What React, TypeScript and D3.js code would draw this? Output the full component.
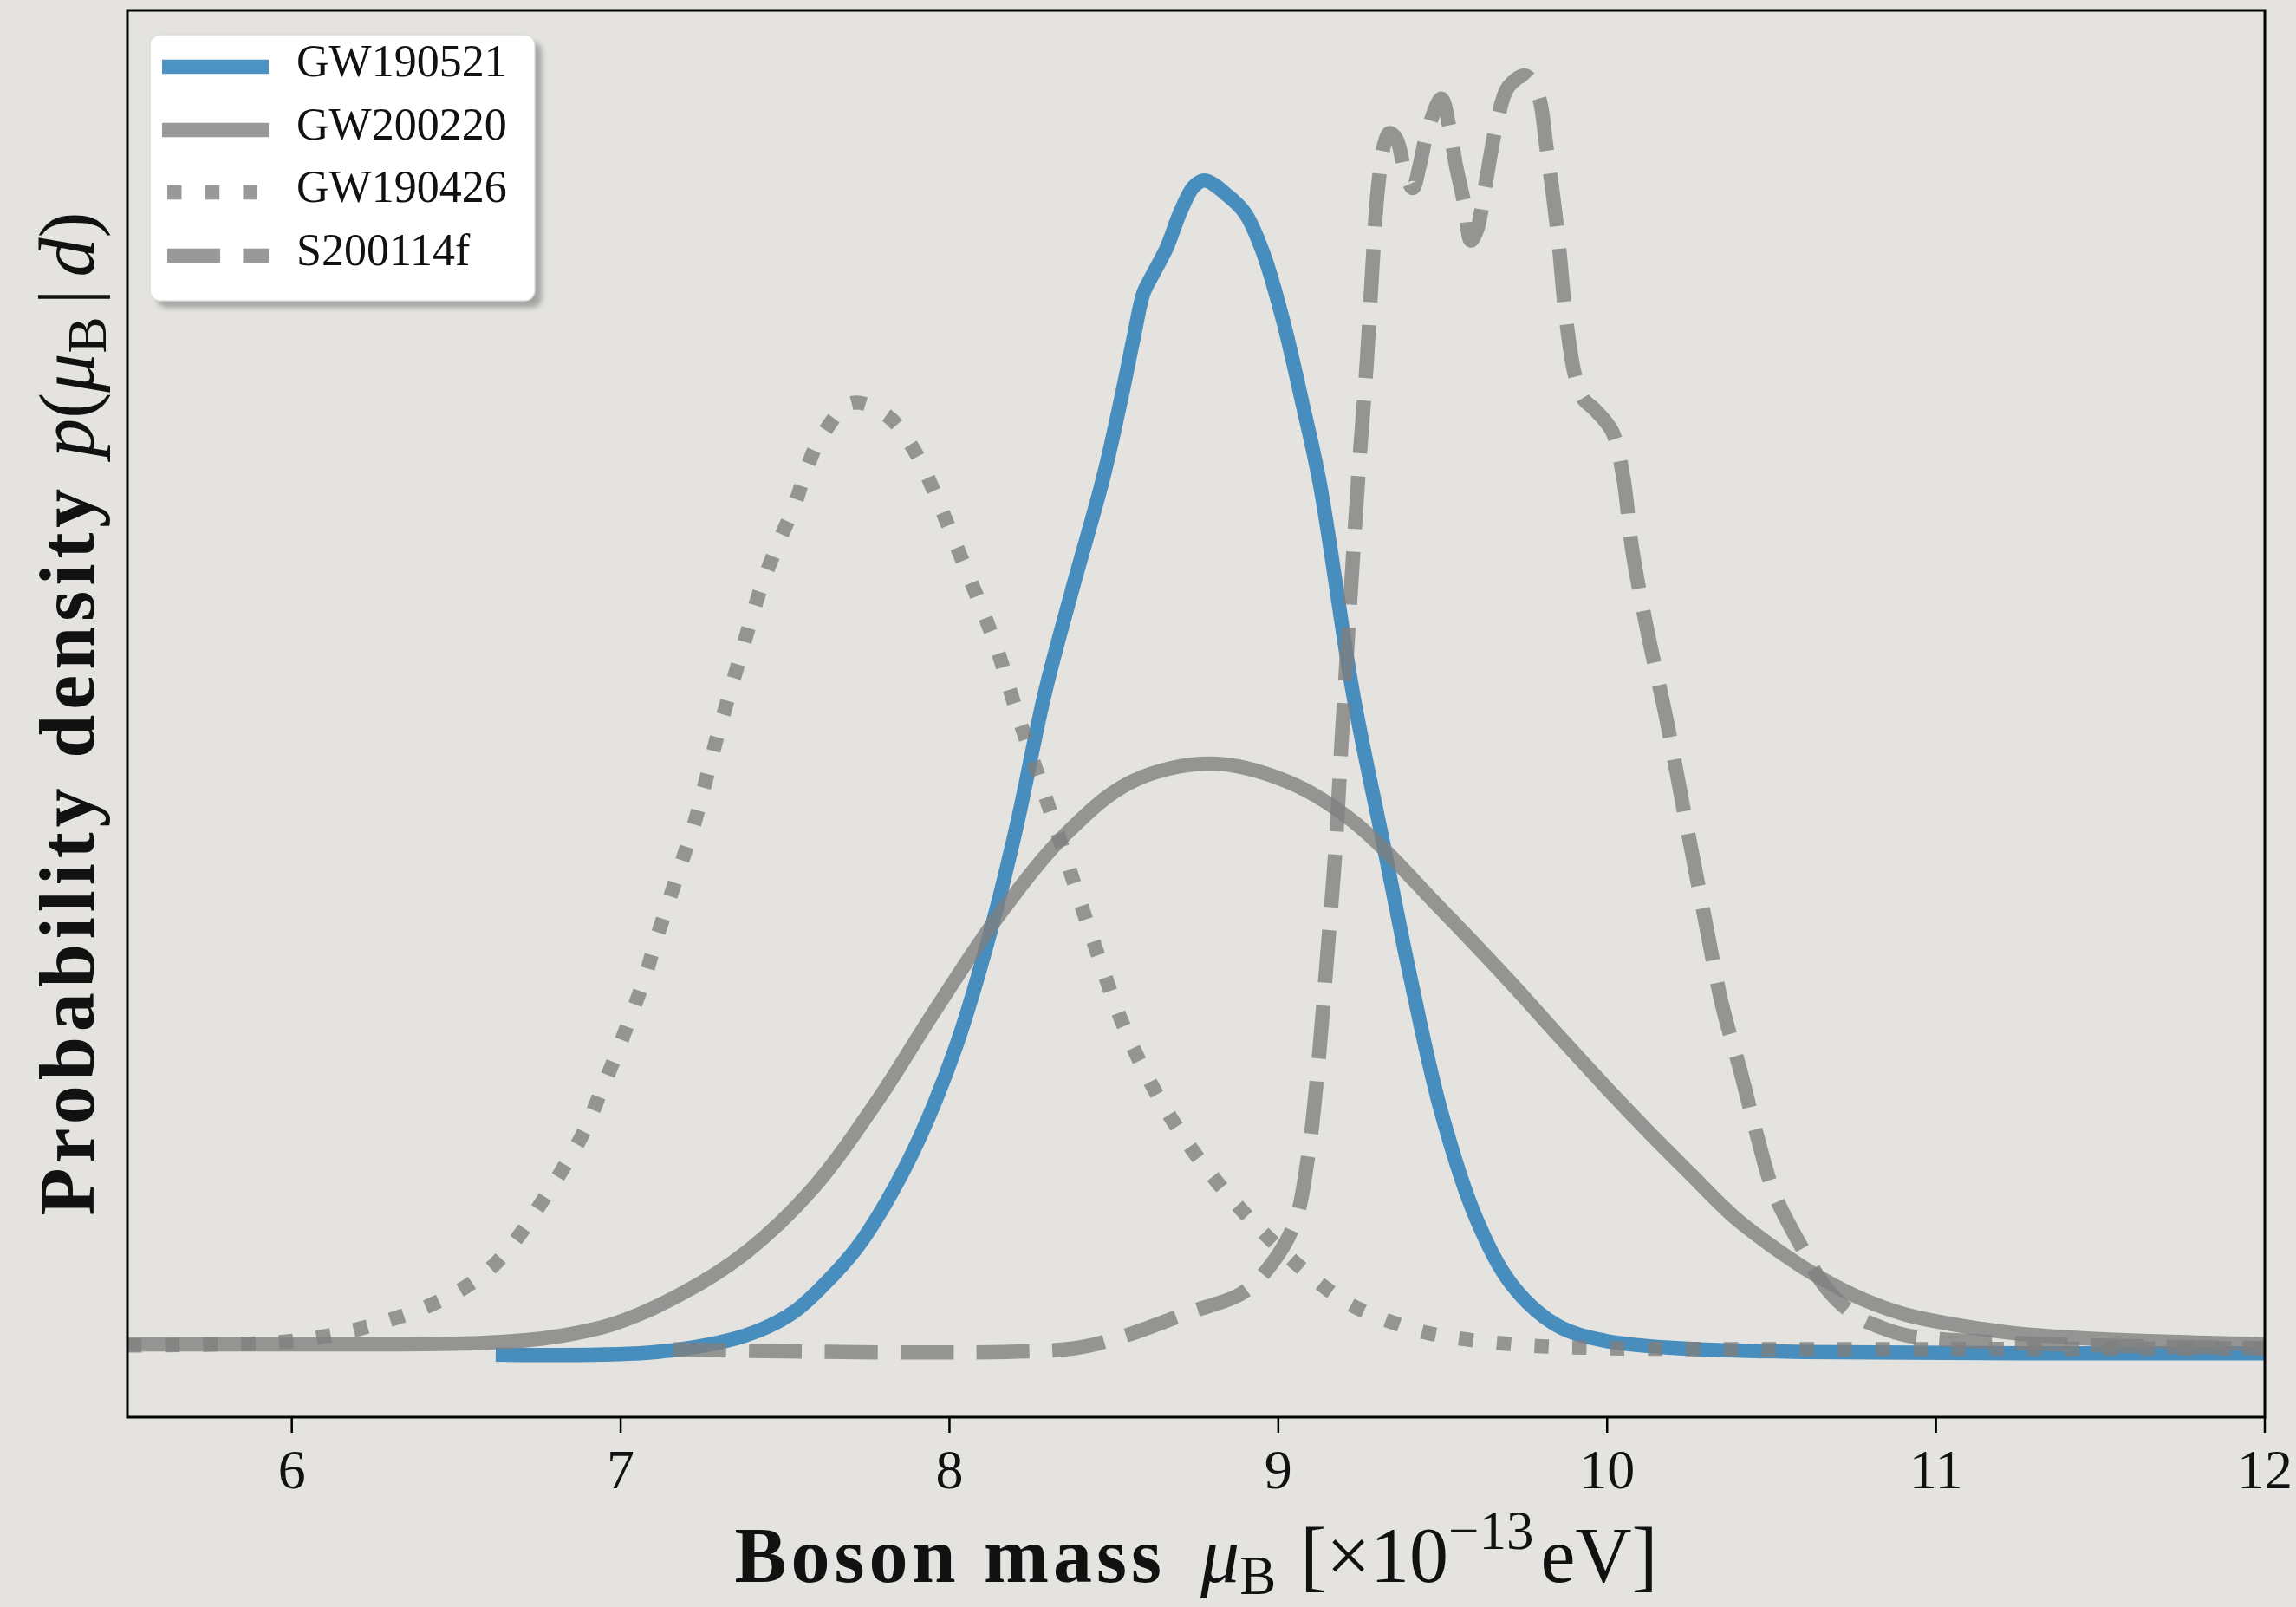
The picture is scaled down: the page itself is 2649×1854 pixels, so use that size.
import React from 'react';
import * as d3 from 'd3';

const W = 2649;
const H = 1854;

// x ticks
const xTicks = [6, 7, 8, 9, 10, 11, 12];

// series names (legend order = draw order)
const seriesNames = ['GW190521', 'GW200220', 'GW190426', 'S200114f'];

// GW190521 (blue, solid)
const gw190521: [number, number][] = [
  [6.62, -0.005], [7.11, -0.003], [7.38, 0.01], [7.52, 0.027], [7.62, 0.05], [7.72, 0.079],
  [7.81, 0.115], [7.91, 0.165], [8.02, 0.236], [8.125, 0.326], [8.204, 0.408], [8.29, 0.512],
  [8.37, 0.59], [8.468, 0.681], [8.52, 0.74], [8.56, 0.79], [8.59, 0.825], [8.615, 0.838],
  [8.66, 0.86], [8.7, 0.887], [8.742, 0.908], [8.776, 0.913], [8.847, 0.901], [8.9, 0.887],
  [8.953, 0.857], [9.013, 0.805], [9.074, 0.738], [9.127, 0.675], [9.227, 0.512], [9.322, 0.391],
  [9.404, 0.287], [9.496, 0.184], [9.604, 0.1], [9.712, 0.049], [9.846, 0.018], [9.989, 0.006],
  [10.21, 0.0], [10.6, -0.003], [12, -0.004],
];

// GW200220 (gray, solid)
const gw200220: [number, number][] = [
  [5.5, 0.003], [5.9, 0.003], [6.575, 0.004], [6.776, 0.008], [6.979, 0.019], [7.182, 0.042],
  [7.382, 0.075], [7.585, 0.125], [7.785, 0.195], [7.951, 0.262], [8.152, 0.339], [8.354, 0.402],
  [8.555, 0.443], [8.797, 0.457], [9.027, 0.443], [9.227, 0.412], [9.496, 0.343], [9.699, 0.288],
  [9.857, 0.243], [10.0, 0.203], [10.13, 0.168], [10.25, 0.137], [10.384, 0.103], [10.516, 0.077],
  [10.648, 0.055], [10.779, 0.038], [10.911, 0.026], [11.043, 0.019], [11.227, 0.012], [11.5, 0.007],
  [12, 0.003],
];

// GW190426 (gray, dotted)
const gw190426: [number, number][] = [
  [5.5, 0.002], [5.924, 0.004], [6.046, 0.007], [6.172, 0.013], [6.285, 0.021], [6.407, 0.032],
  [6.523, 0.047], [6.615, 0.065], [6.697, 0.09], [6.762, 0.115], [6.831, 0.143], [6.892, 0.171],
  [6.939, 0.2], [6.987, 0.23], [7.031, 0.26], [7.074, 0.29], [7.105, 0.317], [7.147, 0.35],
  [7.187, 0.381], [7.226, 0.412], [7.255, 0.44], [7.287, 0.472], [7.321, 0.503], [7.356, 0.534],
  [7.39, 0.564], [7.43, 0.597], [7.477, 0.628], [7.53, 0.66], [7.569, 0.69], [7.611, 0.713],
  [7.703, 0.739], [7.811, 0.729], [7.893, 0.702], [7.946, 0.674], [7.993, 0.645], [8.14, 0.55],
  [8.204, 0.498], [8.326, 0.405], [8.447, 0.311], [8.528, 0.253], [8.636, 0.196], [8.776, 0.142],
  [8.94, 0.094], [9.119, 0.052], [9.227, 0.033], [9.348, 0.02], [9.47, 0.011], [9.712, 0.003],
  [10, 0.0], [12, 0.0],
];

// S200114f (gray, dashed)
const s200114f: [number, number][] = [
  [7.16, -0.001], [8.35, -0.001], [8.5, 0.007], [8.73, 0.028], [8.89, 0.043], [8.98, 0.066],
  [9.05, 0.098], [9.09, 0.149], [9.12, 0.218], [9.148, 0.305], [9.174, 0.391], [9.193, 0.477],
  [9.243, 0.681], [9.269, 0.771], [9.29, 0.862], [9.303, 0.907], [9.322, 0.941], [9.338, 0.95],
  [9.36, 0.945], [9.385, 0.92], [9.409, 0.907], [9.43, 0.925], [9.454, 0.952], [9.496, 0.977],
  [9.52, 0.955], [9.54, 0.925], [9.567, 0.893], [9.585, 0.866], [9.605, 0.875], [9.628, 0.907],
  [9.664, 0.957], [9.699, 0.986], [9.751, 0.995], [9.79, 0.98], [9.815, 0.94], [9.849, 0.873],
  [9.875, 0.805], [9.902, 0.761], [9.928, 0.742], [9.962, 0.734], [10.015, 0.717], [10.049, 0.681],
  [10.076, 0.625], [10.123, 0.56], [10.181, 0.491], [10.229, 0.426], [10.297, 0.336], [10.35, 0.268],
  [10.403, 0.219], [10.455, 0.167], [10.508, 0.121], [10.587, 0.081], [10.666, 0.047], [10.753, 0.026],
  [10.824, 0.017], [10.911, 0.01], [11.23, 0.004], [12, 0.0],
];

const seriesData = [gw190521, gw200220, gw190426, s200114f];

const BG = '#e4e3df';
const FONT = "'Liberation Serif', 'Times New Roman', serif";
const LW = 16.5;
const styles = [
  { color: '#1f77b4', dash: undefined as string | undefined },
  { color: '#808080', dash: undefined as string | undefined },
  { color: '#808080', dash: `${LW} ${LW * 1.65}` },
  { color: '#808080', dash: `${LW * 3.7} ${LW * 1.6}` },
];

export default function App() {
  const x0 = 147, x1 = 2613, y0 = 12, y1 = 1635;
  const x = d3.scaleLinear().domain([5.5, 12]).range([x0, x1]);
  const y = d3.scaleLinear().domain([-0.054, 1.046]).range([y1, y0]);
  const line = d3
    .line<[number, number]>()
    .x((d) => x(d[0]))
    .y((d) => y(d[1]))
    .curve(d3.curveCatmullRom.alpha(0.5));

  const legX = 173, legY = 40, legW = 444, legH = 307;
  const rowLine = [77, 150, 222, 295];

  return (
    <div style={{ position: 'absolute', left: 0, top: 0, width: W, height: H }}>
      <svg width={W} height={H} viewBox={`0 0 ${W} ${H}`} style={{ display: 'block' }}>
        <defs>
          <clipPath id="plotclip">
            <rect x={x0} y={y0} width={x1 - x0} height={y1 - y0} />
          </clipPath>
          <filter id="shadowblur" x="-10%" y="-10%" width="120%" height="120%">
            <feGaussianBlur stdDeviation="3" />
          </filter>
        </defs>
        <rect x={0} y={0} width={W} height={H} fill={BG} />

        <g clipPath="url(#plotclip)">
          {seriesData.map((d, i) => (
            <path
              key={seriesNames[i]}
              d={line(d) || ''}
              fill="none"
              stroke={styles[i].color}
              strokeOpacity={0.8}
              strokeWidth={LW}
              strokeDasharray={styles[i].dash}
              strokeLinejoin="round"
              strokeLinecap="butt"
            />
          ))}
        </g>

        {/* frame */}
        <rect x={x0} y={y0} width={x1 - x0} height={y1 - y0} fill="none" stroke="#000" strokeWidth={3} />

        {/* x ticks */}
        {xTicks.map((t) => (
          <g key={t}>
            <line x1={x(t)} x2={x(t)} y1={y1} y2={y1 + 18} stroke="#000" strokeWidth={2.5} />
            <text x={x(t)} y={1717} textAnchor="middle" fontFamily={FONT} fontSize={64} fill="#111">
              {t}
            </text>
          </g>
        ))}

        {/* x label */}
        <text x={(x0 + x1) / 2} y={1825} textAnchor="middle" fontFamily={FONT} fontSize={90} fill="#111">
          <tspan fontWeight="bold" letterSpacing={5}>Boson mass</tspan>
          <tspan dx={40} fontStyle="italic">μ</tspan>
          <tspan fontSize={63} dy={14}>B</tspan>
          <tspan dy={-14} dx={28}>[×10</tspan>
          <tspan fontSize={63} dy={-38}>−13</tspan>
          <tspan dy={38} dx={8}>eV]</tspan>
        </text>

        {/* y label */}
        <text
          transform={`translate(108, ${(y0 + y1) / 2}) rotate(-90)`}
          textAnchor="middle"
          fontFamily={FONT}
          fontSize={90}
          fill="#111"
        >
          <tspan fontWeight="bold" letterSpacing={6}>Probability density</tspan>
          <tspan dx={30} fontStyle="italic">p</tspan>
          <tspan>(</tspan>
          <tspan fontStyle="italic">μ</tspan>
          <tspan fontSize={63} dy={14}>B</tspan>
          <tspan dy={-14} dx={14}>|</tspan>
          <tspan dx={14} fontStyle="italic">d</tspan>
          <tspan>)</tspan>
        </text>

        {/* legend */}
        <rect x={legX + 8} y={legY + 8} width={legW} height={legH} rx={12} fill="#7a7a7a" opacity={0.6} filter="url(#shadowblur)" />
        <rect x={legX} y={legY} width={legW} height={legH} rx={12} fill="#ffffff" stroke="#dddddd" strokeWidth={1.5} />
        {seriesNames.map((name, i) => (
          <g key={name}>
            <line
              x1={187}
              x2={310}
              y1={rowLine[i]}
              y2={rowLine[i]}
              stroke={styles[i].color}
              strokeOpacity={0.8}
              strokeWidth={LW}
              strokeDasharray={styles[i].dash}
              strokeDashoffset={i >= 2 ? -6 : 0}
            />
            <text x={342} y={rowLine[i] + 11} fontFamily={FONT} fontSize={52} fill="#111">
              {name}
            </text>
          </g>
        ))}
      </svg>
    </div>
  );
}
